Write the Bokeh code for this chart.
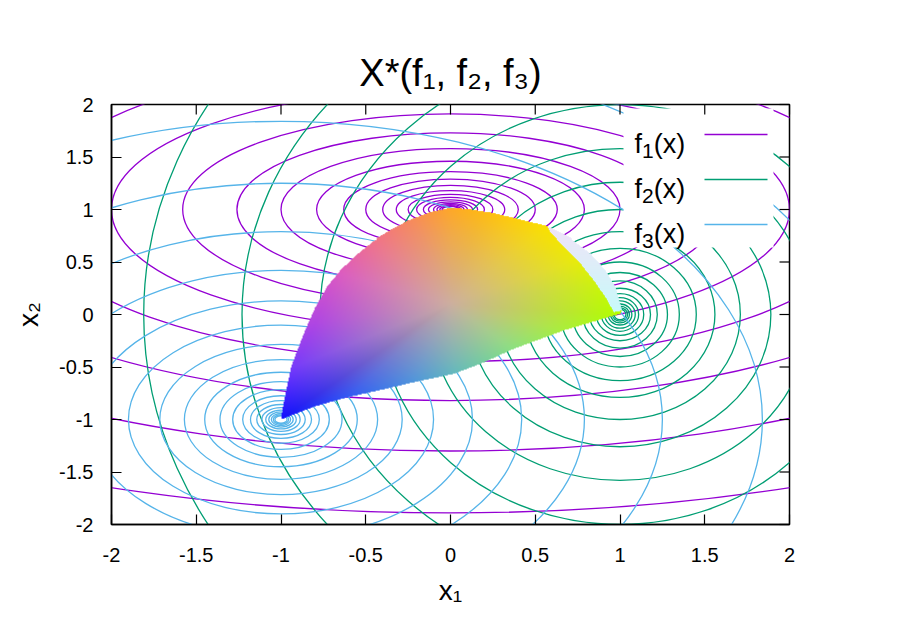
import numpy as np
from bokeh.plotting import figure
from bokeh.models import Range1d, FixedTicker, Label, BoxAnnotation
from bokeh.embed import file_html
from bokeh.resources import INLINE

# ---------------- data ----------------
TICKS = [-2, -1.5, -1, -0.5, 0, 0.5, 1, 1.5, 2]
TICK_LABELS = ["-2", "-1.5", "-1", "-0.5", "0", "0.5", "1", "1.5", "2"]

SERIES = ["1", "2", "3"]
COLORS = ["#9400d3", "#009e73", "#56b4e9"]

# f1 contours: ellipses centred on (0, 1)
F1_CX, F1_CY = 0.0, 1.0
F1_HALF_W = [5.0, 3.98, 3.16, 2.51, 2.0, 1.58, 1.26, 1.0, 0.79, 0.63, 0.5, 0.4,
             0.32, 0.25, 0.2, 0.16, 0.13, 0.1, 0.08, 0.063, 0.05]
F1_HALF_H = [2.89, 2.30, 1.82, 1.45, 1.15, 0.91, 0.73, 0.58, 0.46, 0.36, 0.29, 0.23,
             0.18, 0.145, 0.115, 0.092, 0.073, 0.058, 0.046, 0.036, 0.029]

# f2 contours: ellipses centred on (1, 0)
F2_CX, F2_CY = 1.0, 0.0
F2_HALF_W = [2.81, 2.23, 1.77, 1.41, 1.12, 0.89, 0.71, 0.56, 0.45, 0.35, 0.28,
             0.22, 0.18, 0.14, 0.11, 0.09, 0.07, 0.056, 0.045, 0.035]
F2_HALF_H = [3.98, 3.16, 2.51, 2.0, 1.58, 1.26, 1.0, 0.79, 0.63, 0.5, 0.4,
             0.32, 0.25, 0.2, 0.16, 0.13, 0.1, 0.08, 0.063, 0.05]

# f3 contours: circles centred on (-1, -1)
F3_CX, F3_CY = -1.0, -1.0
F3_RADII = [3.55, 2.84, 2.25, 1.79, 1.42, 1.13, 0.90, 0.715, 0.57, 0.45, 0.36,
            0.285, 0.226, 0.18, 0.143, 0.113, 0.09, 0.072, 0.057, 0.045, 0.036]

# Pareto set X*: outer boundary (counter-clockwise from the f3 minimum)
SET_X = [-1.0, -0.8, -0.61, -0.4, -0.216, 0.02, 0.177, 0.373, 0.668, 0.963, 1.0, 1.012,
         0.973, 0.914, 0.826, 0.708, 0.571, 0.452, 0.256, 0.1, 0.0, -0.12, -0.25, -0.35,
         -0.46, -0.56, -0.65, -0.73, -0.80, -0.87, -0.94, -0.985]
SET_Y = [-1.0, -0.875, -0.79, -0.715, -0.645, -0.565, -0.47, -0.327, -0.152, -0.01, 0.0,
         0.038, 0.26, 0.419, 0.578, 0.721, 0.832, 0.879, 0.955, 0.995, 1.005, 0.965, 0.885,
         0.80, 0.69, 0.56, 0.42, 0.26, 0.06, -0.2, -0.5, -0.85]
# colours along the edge of the set (same order) and at its middle
EDGE_X = [-1.0, -0.61, -0.22, 0.02, 0.37, 0.67, 1.0, 0.95, 0.8, 0.57, 0.37, 0.18, 0.0,
          -0.22, -0.45, -0.67, -0.8, -0.92]
EDGE_Y = [-1.0, -0.79, -0.645, -0.565, -0.33, -0.15, 0.0, 0.3, 0.55, 0.83, 0.93, 0.99,
          1.01, 0.9, 0.69, 0.39, -0.09, -0.5]
EDGE_RGB = [(16, 16, 255), (50, 90, 245), (80, 150, 220), (100, 185, 190), (140, 225, 130),
            (170, 240, 60), (180, 255, 0), (205, 250, 0), (235, 240, 0), (250, 225, 0),
            (255, 205, 10), (255, 185, 20), (255, 168, 40), (248, 140, 90), (240, 115, 140),
            (220, 90, 195), (175, 70, 228), (120, 60, 250)]
MID_X, MID_Y = 0.0, 0.1
MID_RGB = (205, 175, 160)
# pale strip along the upper-right edge
STRIP_X = [0.571, 0.708, 0.826, 0.914, 0.973, 1.012, 0.963, 0.914, 0.845, 0.767, 0.678, 0.590]
STRIP_Y = [0.832, 0.721, 0.578, 0.419, 0.26, 0.038, 0.022, 0.165, 0.324, 0.483, 0.625, 0.768]
STRIP_TOP_RGB = (240, 228, 248)
STRIP_BOTTOM_RGB = (200, 250, 250)

# ---------------- figure ----------------
BL, BR, BT, BB = 111, 101, 104, 96
FW, FH = 678, 420
W, H = BL + FW + BR, BT + FH + BB
FONT = "Liberation Sans"

p = figure(width=W, height=H, x_range=Range1d(-2, 2), y_range=Range1d(-2, 2),
           output_backend="svg", toolbar_location=None,
           min_border_left=BL, min_border_right=BR, min_border_top=BT, min_border_bottom=BB)
p.xgrid.visible = False
p.ygrid.visible = False
p.outline_line_color = "black"
p.outline_line_width = 1.5
p.background_fill_color = "white"
p.border_fill_color = "white"

p.title.text = "X*(f\u2081, f\u2082, f\u2083)"
p.title.text_font = FONT
p.title.text_font_size = "38px"
p.title.text_font_style = "normal"
p.title.text_color = "black"
p.title.align = "center"
p.title.standoff = 22

for ax in (p.xaxis[0], p.yaxis[0]):
    ax.ticker = FixedTicker(ticks=TICKS)
    ax.major_label_overrides = {t: s for t, s in zip(TICKS, TICK_LABELS)}
    ax.major_tick_in = 10
    ax.major_tick_out = 0
    ax.minor_tick_line_color = None
    ax.axis_line_color = "black"
    ax.axis_line_width = 1.5
    ax.major_tick_line_color = "black"
    ax.major_tick_line_width = 1.2
    ax.major_label_text_font = FONT
    ax.major_label_text_font_size = "20px"
    ax.major_label_text_color = "black"
    ax.axis_label_text_font = FONT
    ax.axis_label_text_font_size = "28px"
    ax.axis_label_text_font_style = "normal"
    ax.axis_label_text_color = "black"
p.xaxis[0].major_label_standoff = 23
p.yaxis[0].major_label_standoff = 18
p.xaxis[0].axis_label = "x\u2081"
p.yaxis[0].axis_label = "x\u2082"
p.xaxis[0].axis_label_standoff = 10
p.yaxis[0].axis_label_standoff = 12

# ---------------- contours ----------------
p.ellipse(x=[F1_CX] * len(F1_HALF_W), y=[F1_CY] * len(F1_HALF_W),
          width=[2 * a for a in F1_HALF_W], height=[2 * b for b in F1_HALF_H],
          fill_alpha=0, line_color=COLORS[0], line_width=1.3)
p.ellipse(x=[F2_CX] * len(F2_HALF_W), y=[F2_CY] * len(F2_HALF_W),
          width=[2 * a for a in F2_HALF_W], height=[2 * b for b in F2_HALF_H],
          fill_alpha=0, line_color=COLORS[1], line_width=1.3)
p.ellipse(x=[F3_CX] * len(F3_RADII), y=[F3_CY] * len(F3_RADII),
          width=[2 * r for r in F3_RADII], height=[2 * r for r in F3_RADII],
          fill_alpha=0, line_color=COLORS[2], line_width=1.3)

# ---------------- coloured Pareto set (raster) ----------------
IX0, IY0, IDW, IDH = -1.05, -1.05, 2.12, 2.12
NX, NY = int(IDW * FW / 4), int(IDH * FH / 4)
gx = IX0 + (np.arange(NX) + 0.5) * IDW / NX
gy = IY0 + (np.arange(NY) + 0.5) * IDH / NY
GX, GY = np.meshgrid(gx, gy)


def inside(px, py, vx, vy):
    res = np.zeros(px.shape, dtype=bool)
    n = len(vx)
    j = n - 1
    for i in range(n):
        xi, yi, xj, yj = vx[i], vy[i], vx[j], vy[j]
        if yi != yj:
            cond = ((yi > py) != (yj > py)) & (px < (xj - xi) * (py - yi) / (yj - yi) + xi)
            res ^= cond
        j = i
    return res


mask = inside(GX, GY, SET_X, SET_Y)
smask = inside(GX, GY, STRIP_X, STRIP_Y) & mask

# fan interpolation between the middle colour and the edge colours
ex = np.array(EDGE_X) - MID_X
ey = np.array(EDGE_Y) - MID_Y
ecol = np.array(EDGE_RGB, dtype=float)
mcol = np.array(MID_RGB, dtype=float)
ang = np.arctan2(ey, ex)
VX, VY = GX - MID_X, GY - MID_Y
pang = np.arctan2(VY, VX)
rgb = np.zeros(GX.shape + (3,))
n = len(ex)
for i in range(n):
    k = (i + 1) % n
    a0, a1 = ang[i], ang[k]
    span = (a1 - a0) % (2 * np.pi)
    sec = ((pang - a0) % (2 * np.pi)) <= span
    det = ex[i] * ey[k] - ex[k] * ey[i]
    s = (VX * ey[k] - VY * ex[k]) / det
    t = (ex[i] * VY - ey[i] * VX) / det
    tot = np.maximum(s + t, 1.0)
    s, t = s / tot, t / tot
    c = mcol + s[..., None] * (ecol[i] - mcol) + t[..., None] * (ecol[k] - mcol)
    rgb = np.where(sec[..., None], c, rgb)

tt = np.clip((GY - 0.03) / 0.8, 0, 1)[..., None]
srgb = np.array(STRIP_BOTTOM_RGB) * (1 - tt) + np.array(STRIP_TOP_RGB) * tt
rgb = np.where(smask[..., None], srgb, rgb)
img = np.zeros((NY, NX, 4), dtype=np.uint8)
img[..., :3] = np.clip(rgb, 0, 255).astype(np.uint8)
img[..., 3] = np.where(mask, 255, 0)
p.image_rgba(image=[img.view(np.uint32).reshape(NY, NX)], x=IX0, y=IY0, dw=IDW, dh=IDH)

# ---------------- mirrored ticks on top and right ----------------
TLX = 10 * 4 / FW
TLY = 10 * 4 / FH
p.segment(x0=TICKS, y0=[2] * len(TICKS), x1=TICKS, y1=[2 - TLY] * len(TICKS),
          line_color="black", line_width=1.2, level="overlay")
p.segment(x0=[2] * len(TICKS), y0=TICKS, x1=[2 - TLX] * len(TICKS), y1=TICKS,
          line_color="black", line_width=1.2, level="overlay")

# ---------------- key ----------------


def dx(px):
    return -2 + (px - BL) * 4 / FW


def dy(py):
    return 2 - (py - BT) * 4 / FH


def txt(s, px, py, size):
    p.add_layout(Label(x=dx(px), y=dy(py), text=s, text_font=FONT,
                       text_font_size=f"{size}px", text_color="black",
                       text_baseline="alphabetic", text_align="left", level="overlay"))


p.add_layout(BoxAnnotation(left=dx(623), right=dx(773), top=dy(108), bottom=dy(247),
                           fill_color="white", fill_alpha=1.0, line_alpha=0))
rows = [143, 188, 233]
LS, LSS = 27, 21
for name, col, base in zip(SERIES, COLORS, rows):
    xx = 634
    txt("f", xx, base, LS); xx += 0.278 * LS
    txt(name, xx, base + 7, LSS); xx += 0.556 * LSS
    txt("(x)", xx, base, LS)
    p.segment(x0=[dx(704)], y0=[dy(base - 9)], x1=[dx(767)], y1=[dy(base - 9)],
              line_color=col, line_width=1.3, level="overlay")

open("out.html", "w").write(file_html(p, INLINE))
